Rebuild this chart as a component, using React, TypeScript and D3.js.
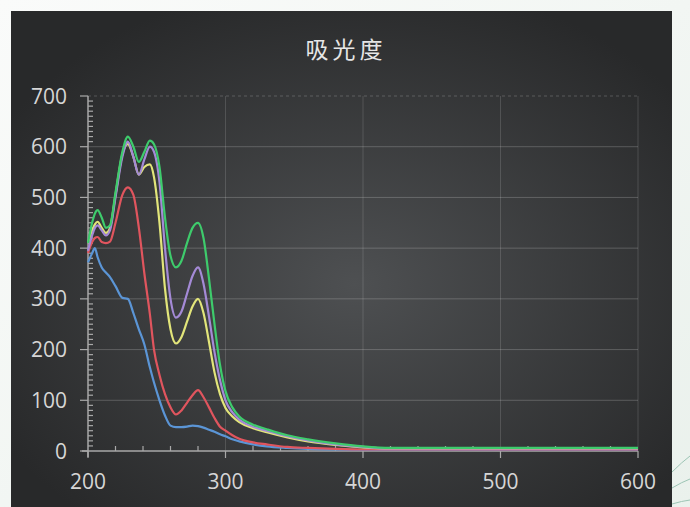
import React, { useEffect, useRef } from 'react';
import * as d3 from 'd3';

// wavelength grid (nm) shared by all series
const wavelengths = [200, 203, 205, 207, 210, 213, 216, 220, 225, 229, 233, 237, 241, 245, 248, 252, 256, 260, 264, 268, 272, 276, 280, 284, 288, 292, 296, 300, 305, 310, 320, 330, 345, 360, 380, 400, 420, 450, 500, 600];

const blueValues = [372, 390, 400, 382, 362, 352, 343, 325, 302, 300, 272, 240, 210, 165, 135, 100, 70, 50, 47, 47, 48, 50, 49, 46, 42, 38, 33, 29, 23, 19, 13, 9, 6, 4, 3, 2, 2, 2, 2, 2];
const redValues = [390, 412, 420, 422, 412, 410, 413, 450, 505, 520, 505, 440, 350, 270, 200, 150, 112, 86, 72, 80, 95, 110, 120, 106, 86, 65, 48, 40, 31, 24, 17, 13, 8, 6, 4, 3, 3, 3, 3, 3];
const yellowValues = [410, 435, 447, 452, 440, 430, 440, 505, 585, 605, 580, 545, 560, 565, 540, 450, 320, 240, 212, 225, 255, 285, 300, 272, 215, 155, 112, 85, 68, 57, 45, 37, 27, 19, 12, 7, 5, 5, 5, 5];
const purpleValues = [395, 425, 440, 445, 435, 425, 435, 500, 580, 610, 580, 545, 575, 600, 590, 530, 400, 300, 263, 275, 310, 345, 362, 330, 265, 195, 140, 100, 76, 62, 48, 40, 29, 21, 13, 8, 5, 5, 5, 5];
const greenValues = [410, 450, 468, 475, 460, 440, 445, 510, 590, 620, 600, 570, 590, 612, 605, 560, 460, 385, 362, 375, 410, 440, 450, 420, 340, 250, 170, 118, 86, 68, 52, 43, 31, 23, 15, 9, 6, 6, 6, 6];

const seriesValues = [blueValues, redValues, yellowValues, purpleValues, greenValues];
const seriesColors = ['#5b95d6', '#e0555e', '#e2e57a', '#a48ad6', '#3ecb6c'];

const xTicks = [200, 300, 400, 500, 600];
const yTicks = [0, 100, 200, 300, 400, 500, 600, 700];
const title = '吸光度';

const App = () => {
  const ref = useRef(null);

  useEffect(() => {
    const width = 690;
    const height = 507;
    const left = 88, right = 638, top = 96, bottom = 451;

    const root = d3.select(ref.current);
    root.selectAll('*').remove();

    const svg = root.append('svg')
      .attr('width', width)
      .attr('height', height)
      .style('position', 'absolute')
      .style('left', 0)
      .style('top', 0)
      .style('font-family', '"Open Sans", "Noto Sans", sans-serif');

    const defs = svg.append('defs');
    const bg = defs.append('radialGradient').attr('id', 'bg')
      .attr('cx', '52%').attr('cy', '55%').attr('r', '62%');
    bg.append('stop').attr('offset', '0%').attr('stop-color', '#4e5052');
    bg.append('stop').attr('offset', '100%').attr('stop-color', '#28292a');
    const page = defs.append('linearGradient').attr('id', 'page')
      .attr('x1', '0').attr('y1', '0').attr('x2', '1').attr('y2', '1');
    page.append('stop').attr('offset', '0%').attr('stop-color', '#fafbfa');
    page.append('stop').attr('offset', '100%').attr('stop-color', '#eaf1ec');

    // page + dark panel
    svg.append('rect').attr('width', width).attr('height', height).attr('fill', 'url(#page)');
    svg.append('rect').attr('x', 11).attr('y', 11).attr('width', 661).attr('height', height - 11)
      .attr('fill', 'url(#bg)');

    // decorative curves at the right edge
    ['M672,472 Q682,462 690,456', 'M672,488 Q682,482 690,479', 'M672,504 Q682,501 690,500'].forEach(d => {
      svg.append('path').attr('d', d).attr('fill', 'none')
        .attr('stroke', '#9cc4b4').attr('stroke-width', 1);
    });

    svg.append('text')
      .attr('x', 346).attr('y', 58)
      .attr('text-anchor', 'middle')
      .attr('fill', '#e6e6e6')
      .attr('font-size', 23)
      .attr('letter-spacing', 4)
      .style('font-family', '"Noto Sans CJK SC", sans-serif')
      .text(title);

    const x = d3.scaleLinear().domain([200, 600]).range([left, right]);
    const y = d3.scaleLinear().domain([0, 700]).range([bottom, top]);

    // grid
    const grid = svg.append('g');
    yTicks.filter(t => t > 0).forEach(t => {
      grid.append('line')
        .attr('x1', left).attr('x2', right)
        .attr('y1', y(t)).attr('y2', y(t))
        .attr('stroke', 'rgba(255,255,255,0.2)')
        .attr('stroke-width', 1)
        .attr('stroke-dasharray', t === 700 ? '3,3' : null);
    });
    xTicks.filter(t => t > 200).forEach(t => {
      grid.append('line')
        .attr('x1', x(t)).attr('x2', x(t))
        .attr('y1', top).attr('y2', bottom)
        .attr('stroke', 'rgba(255,255,255,0.14)')
        .attr('stroke-width', 1);
    });

    // axes
    const axisColor = '#a9a9a9';
    const axes = svg.append('g').attr('stroke', axisColor).attr('stroke-width', 1.5);
    axes.append('line').attr('x1', left).attr('x2', left).attr('y1', top).attr('y2', bottom + 6);
    axes.append('line').attr('x1', left - 6).attr('x2', right).attr('y1', bottom).attr('y2', bottom);
    d3.range(0, 701, 10).forEach(v => {
      const major = v % 100 === 0;
      axes.append('line')
        .attr('x1', major ? left - 8 : left).attr('x2', major ? left : left + 5)
        .attr('y1', y(v)).attr('y2', y(v))
        .attr('stroke-width', 1.2);
    });
    d3.range(200, 601, 20).forEach(v => {
      const major = v % 100 === 0;
      axes.append('line')
        .attr('x1', x(v)).attr('x2', x(v))
        .attr('y1', major ? bottom + 7 : bottom - 5).attr('y2', bottom)
        .attr('stroke-width', 1.2);
    });

    svg.append('g').selectAll('text').data(yTicks).enter().append('text')
      .attr('x', 67).attr('y', d => y(d))
      .attr('dy', '0.36em')
      .attr('text-anchor', 'end')
      .attr('fill', '#d6d6d6')
      .attr('font-size', 21)
      .text(d => d);

    svg.append('g').selectAll('text').data(xTicks).enter().append('text')
      .attr('x', d => x(d)).attr('y', 489)
      .attr('text-anchor', 'middle')
      .attr('fill', '#d6d6d6')
      .attr('font-size', 21)
      .text(d => d);

    // spectra
    const line = d3.line<number>()
      .x((_, i) => x(wavelengths[i]))
      .y(d => y(d))
      .curve(d3.curveMonotoneX);

    seriesValues.forEach((vals, i) => {
      svg.append('path')
        .attr('d', line(vals))
        .attr('fill', 'none')
        .attr('stroke', seriesColors[i])
        .attr('stroke-width', 2.2)
        .attr('stroke-linejoin', 'round');
    });

    return () => {
      root.selectAll('*').remove();
    };
  }, []);

  return <div ref={ref}></div>;
};

export default App;
